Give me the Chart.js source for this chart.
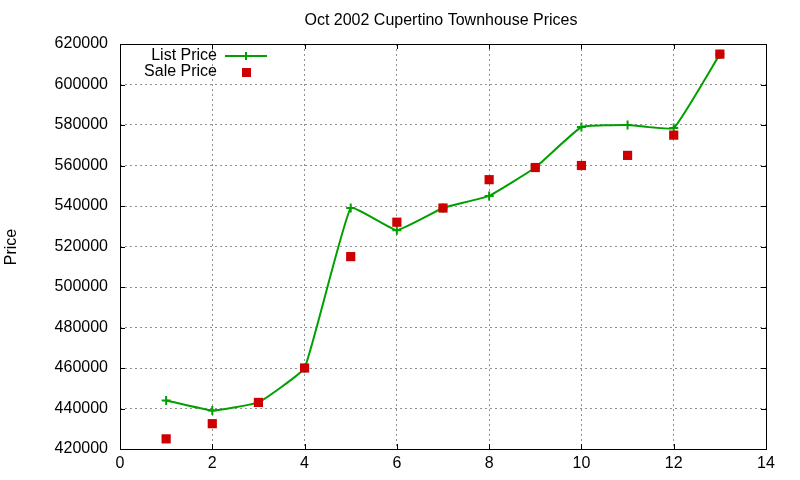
<!DOCTYPE html>
<html>
<head>
<meta charset="utf-8">
<script src="https://cdn.jsdelivr.net/npm/chart.js@4"></script>
<style>
  html, body { margin: 0; padding: 0; background: #fff; }
  #wrap { width: 800px; height: 480px; }
</style>
</head>
<body>
<div id="wrap"><canvas id="priceChart" width="800" height="480"></canvas></div>
<script>
// data
const units = [1, 2, 3, 4, 5, 6, 7, 8, 9, 10, 11, 12, 13];
const listPrices = [444000, 439000, 443000, 460000, 539000, 528000, 539000, 545000, 559000, 579000, 580000, 578500, 615000];
const salePrices = [425000, 432500, 443000, 460000, 515000, 532000, 539000, 553000, 559000, 560000, 565000, 575000, 615000];
const xTicks = [0, 2, 4, 6, 8, 10, 12, 14];
const yTicks = [420000, 440000, 460000, 480000, 500000, 520000, 540000, 560000, 580000, 600000, 620000];

const GREEN = "#00a000";
const RED = "#cc0000";
const FONT = "'Liberation Sans', Arial, sans-serif";

// gnuplot style: title, y label, inward ticks, legend inside the box
const gnuplotDecor = {
    id: "gnuplotDecor",
    afterDraw(chart) {
        const { ctx, chartArea: a, scales } = chart;
        ctx.save();

        // frame + inward tick marks on all four sides
        ctx.strokeStyle = "#000";
        ctx.lineWidth = 1;
        ctx.strokeRect(Math.round(a.left) + 0.5, Math.round(a.top) + 0.5,
            Math.round(a.right - a.left), Math.round(a.bottom - a.top));
        ctx.beginPath();
        xTicks.forEach(v => {
            const px = Math.round(scales.x.getPixelForValue(v)) + 0.5;
            ctx.moveTo(px, a.bottom); ctx.lineTo(px, a.bottom - 5);
            ctx.moveTo(px, a.top); ctx.lineTo(px, a.top + 5);
        });
        yTicks.forEach(v => {
            const py = Math.round(scales.y.getPixelForValue(v)) + 0.5;
            ctx.moveTo(a.left, py); ctx.lineTo(a.left + 5, py);
            ctx.moveTo(a.right, py); ctx.lineTo(a.right - 5, py);
        });
        ctx.stroke();

        // title
        ctx.fillStyle = "#000";
        ctx.font = "16px " + FONT;
        ctx.textAlign = "center";
        ctx.textBaseline = "middle";
        ctx.fillText("Oct 2002 Cupertino Townhouse Prices", 441, 21);

        // y axis label
        ctx.save();
        ctx.translate(12, 247);
        ctx.rotate(-Math.PI / 2);
        ctx.fillText("Price", 0, 0);
        ctx.restore();

        // legend
        ctx.textAlign = "right";
        ctx.fillText("List Price", 217, 56);
        ctx.fillText("Sale Price", 217, 72);

        ctx.strokeStyle = GREEN;
        ctx.lineWidth = 2;
        ctx.beginPath();
        ctx.moveTo(225, 56); ctx.lineTo(267, 56);
        ctx.moveTo(246, 52); ctx.lineTo(246, 60);
        ctx.stroke();

        ctx.fillStyle = RED;
        ctx.fillRect(242, 68, 9, 9);

        ctx.restore();
    }
};

new Chart(document.getElementById("priceChart"), {
    type: "line",
    data: {
        datasets: [
            {
                label: "List Price",
                data: units.map((u, i) => ({ x: u, y: listPrices[i] })),
                borderColor: GREEN,
                backgroundColor: GREEN,
                borderWidth: 2,
                tension: 0.1,
                pointStyle: "cross",
                pointRadius: 4.5,
                pointBorderWidth: 2,
                fill: false,
                order: 2
            },
            {
                label: "Sale Price",
                data: units.map((u, i) => ({ x: u, y: salePrices[i] })),
                showLine: false,
                borderColor: RED,
                backgroundColor: RED,
                pointStyle: "rect",
                pointRadius: 6.5,
                pointBorderWidth: 0,
                order: 1
            }
        ]
    },
    options: {
        responsive: false,
        animation: false,
        layout: { padding: { top: 44, right: 34, left: 0, bottom: 0 } },
        plugins: {
            legend: { display: false },
            title: { display: false },
            tooltip: { enabled: false }
        },
        scales: {
            x: {
                type: "linear",
                min: 0,
                max: 14,
                afterFit: s => { s.height = 31; },
                afterBuildTicks: s => { s.ticks = xTicks.map(v => ({ value: v })); },
                ticks: {
                    padding: 5,
                    color: "#000",
                    font: { family: FONT, size: 16 }
                },
                grid: {
                    color: "#909090",
                    drawTicks: false,
                    lineWidth: 1
                },
                border: { display: false, dash: [2, 3] }
            },
            y: {
                min: 420000,
                max: 620000,
                afterFit: s => { s.width = 120; },
                afterBuildTicks: s => { s.ticks = yTicks.map(v => ({ value: v })); },
                ticks: {
                    padding: 12,
                    color: "#000",
                    font: { family: FONT, size: 16 },
                    callback: v => String(v)
                },
                grid: {
                    color: "#909090",
                    drawTicks: false,
                    lineWidth: 1
                },
                border: { display: false, dash: [2, 3] }
            }
        }
    },
    plugins: [gnuplotDecor]
});
</script>
</body>
</html>
